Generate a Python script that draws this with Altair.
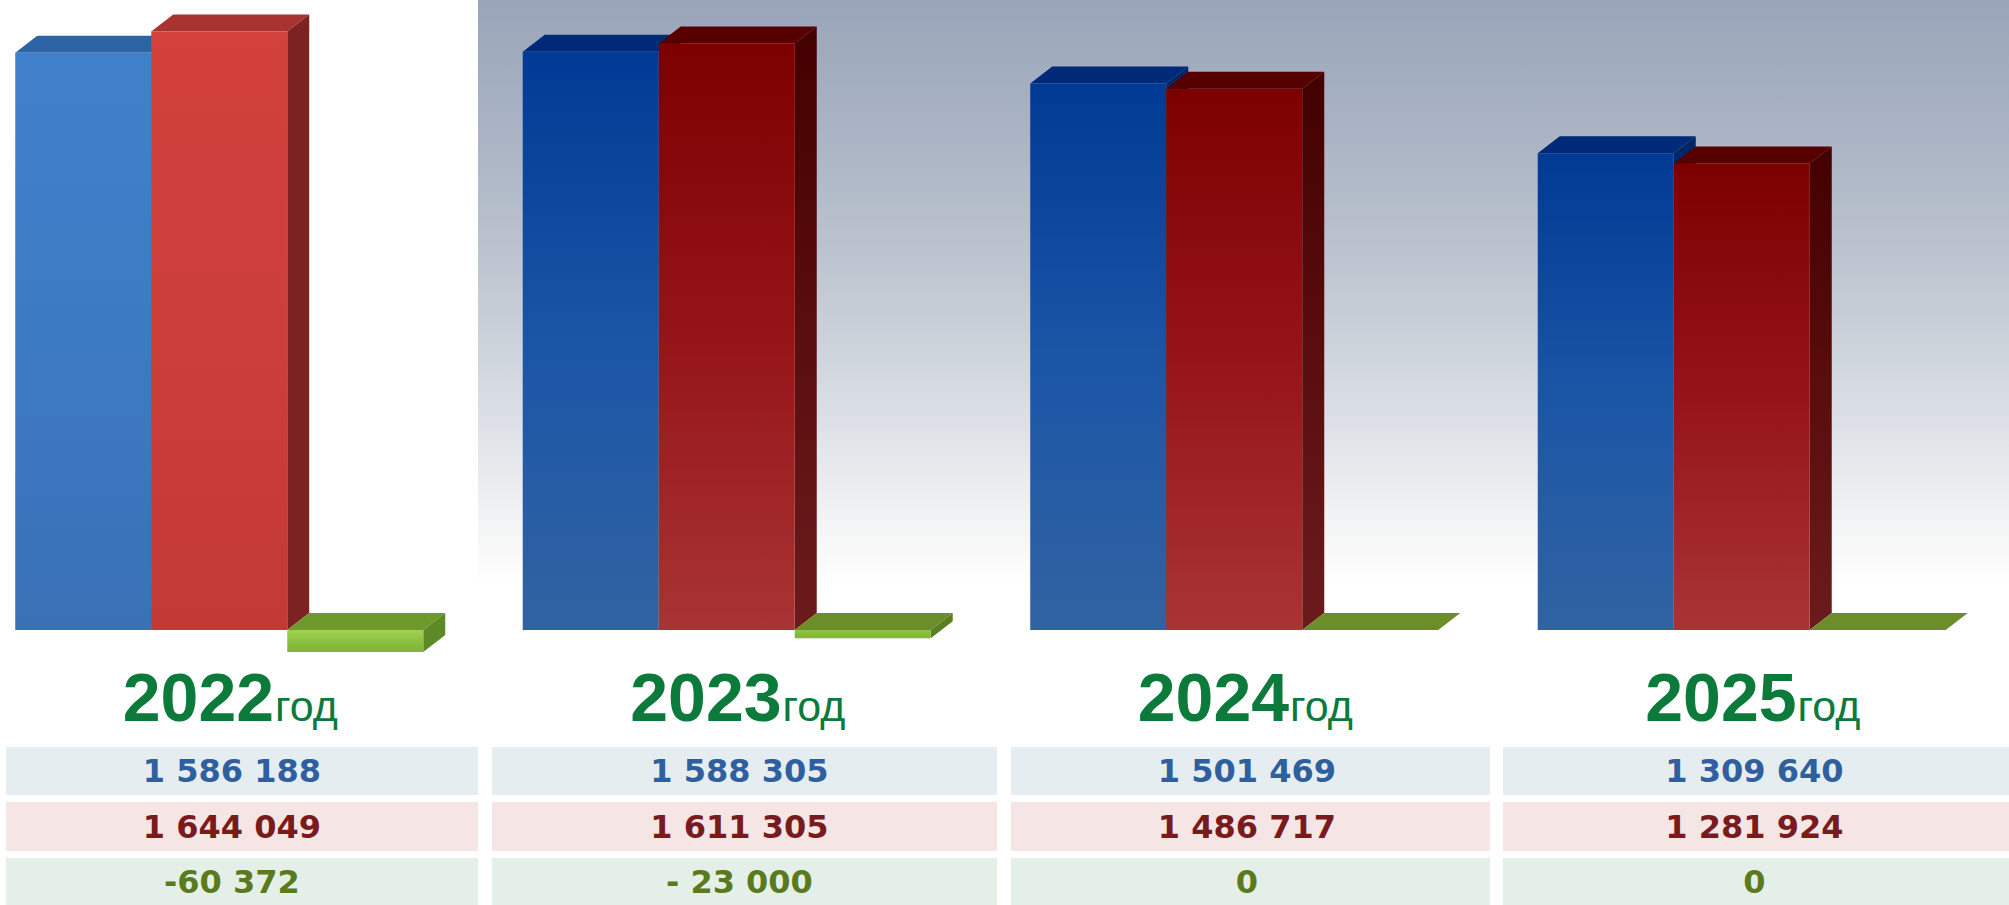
import altair as alt
import pandas as pd

# ---------------- data ----------------
years = ["2022", "2023", "2024", "2025"]
income = [1586188, 1588305, 1501469, 1309640]      # доходы
spending = [1644049, 1611305, 1486717, 1281924]    # расходы
balance = [-60372, -23000, 0, 0]                   # дефицит / профицит
balance_text = ["-60 372", "- 23 000", "0", "0"]
year_suffix = "год"

# ---------------- layout ----------------
W, H = 2009, 905
GROUP = 507.5                     # px per year group
X_DOMAIN = [0, W / GROUP]
PX_PER_UNIT = 3.64e-4
BASE_PX = 630
Y_DOMAIN = [-(H - BASE_PX) / PX_PER_UNIT, BASE_PX / PX_PER_UNIT]
BAR_OFF = 0.03
BAR_W = 0.268
DX = 22 / GROUP
DY = 17 / PX_PER_UNIT
TABLE_COLS_PX = [(6, 478), (492, 997), (1011, 1490), (1503, 2009)]
TEXT_OFF = 0.457
LABEL_OFF = 0.54

xs = alt.Scale(domain=X_DOMAIN, nice=False, zero=False)
ys = alt.Scale(domain=Y_DOMAIN, nice=False, zero=False)


def fmt(v):
    return f"{v:,}".replace(",", " ")


series = [("income", income), ("spending", spending), ("balance", balance)]
front_rows, poly_rows = [], []
for i, yr in enumerate(years):
    style = "light" if i == 0 else "dark"
    for s, (name, vals) in enumerate(series):
        v = vals[i]
        x0 = i + BAR_OFF + s * BAR_W
        x1 = x0 + BAR_W
        lo, hi = min(0, v), max(0, v)
        key = f"{name}_{style}"
        bid = f"{yr}_{name}"
        front_rows.append(dict(key=key, x0=x0, x1=x1, lo=lo, hi=hi))
        for px, a, b in [(x0, hi, hi), (x0 + DX, hi, hi + DY),
                         (x1, hi, hi + DY), (x1 + DX, hi + DY, hi + DY)]:
            poly_rows.append(dict(id=bid, face="top", key=key, x=px, a=a, b=b))
        for px, a, b in [(x1, lo, hi), (x1 + DX, lo + DY, hi + DY)]:
            poly_rows.append(dict(id=bid, face="side", key=key, x=px, a=a, b=b))

fronts = pd.DataFrame(front_rows)
polys = pd.DataFrame(poly_rows)


def grad(*stops):
    n = len(stops)
    return alt.Gradient(
        gradient="linear", x1=0, y1=0, x2=0, y2=1,
        stops=[alt.GradientStop(color=c, offset=k / (n - 1)) for k, c in enumerate(stops)],
    )


FILL = {
    ("income_light", "top"): "#2e63a6",
    ("income_light", "side"): "#275a98",
    ("income_light", "front"): grad("#4080cb", "#3d7ac4", "#3a70b6"),
    ("income_dark", "top"): "#002a78",
    ("income_dark", "side"): "#00266a",
    ("income_dark", "front"): grad("#003a94", "#1a55a6", "#3163a2"),
    ("spending_light", "top"): "#a83330",
    ("spending_light", "side"): "#7c2222",
    ("spending_light", "front"): grad("#d2413c", "#cc3e3a", "#c23935"),
    ("spending_dark", "top"): "#560000",
    ("spending_dark", "side"): grad("#430000", "#5a0d0d", "#6b1b1b"),
    ("spending_dark", "front"): grad("#7d0000", "#951418", "#a93434"),
    ("balance_light", "top"): "#6e9a2c",
    ("balance_light", "side"): "#5b8a26",
    ("balance_light", "front"): grad("#a2d44f", "#8cc03f", "#7fb236"),
    ("balance_dark", "top"): "#6b8e29",
    ("balance_dark", "side"): "#5a7f22",
    ("balance_dark", "front"): grad("#8fc444", "#7fb236"),
}

layers = []

# background gradient panel (slide decoration)
bg_grad = alt.Gradient(
    gradient="linear", x1=0, y1=0, x2=0, y2=1,
    stops=[
        alt.GradientStop(color="#99a5b9", offset=0.0),
        alt.GradientStop(color="#a9b3c3", offset=0.22),
        alt.GradientStop(color="#bcc4cf", offset=0.44),
        alt.GradientStop(color="#d5dae1", offset=0.66),
        alt.GradientStop(color="#eceef1", offset=0.84),
        alt.GradientStop(color="#fafafa", offset=0.95),
        alt.GradientStop(color="#ffffff", offset=1.0),
    ],
)
bg = alt.Chart(pd.DataFrame({"k": [0]})).mark_rect(fill=bg_grad).encode(
    x=alt.value(478), x2=alt.value(W), y=alt.value(0), y2=alt.value(585)
)
layers.append(bg)

for name, _ in series:
    for style in ["light", "dark"]:
        key = f"{name}_{style}"
        top = alt.Chart(polys).transform_filter(
            f"datum.key == '{key}' && datum.face == 'top'"
        ).mark_area(fill=FILL[(key, "top")], interpolate="linear").encode(
            x=alt.X("x:Q", scale=xs, axis=None),
            y=alt.Y("a:Q", scale=ys, axis=None, stack=None),
            y2="b:Q",
            detail="id:N",
        )
        side = alt.Chart(polys).transform_filter(
            f"datum.key == '{key}' && datum.face == 'side'"
        ).mark_area(fill=FILL[(key, "side")], interpolate="linear").encode(
            x=alt.X("x:Q", scale=xs, axis=None),
            y=alt.Y("a:Q", scale=ys, axis=None, stack=None),
            y2="b:Q",
            detail="id:N",
        )
        front = alt.Chart(fronts).transform_filter(
            f"datum.key == '{key}'"
        ).mark_rect(fill=FILL[(key, "front")]).encode(
            x=alt.X("x0:Q", scale=xs, axis=None),
            x2="x1:Q",
            y=alt.Y("lo:Q", scale=ys, axis=None),
            y2="hi:Q",
        )
        layers += [top, side, front]

# year labels
labels = pd.DataFrame({
    "year": years,
    "suffix": [year_suffix] * len(years),
    "lx": [i + LABEL_OFF for i in range(len(years))],
})
layers.append(
    alt.Chart(labels).mark_text(
        align="right", baseline="alphabetic", font="Liberation Sans",
        fontWeight="bold", fontSize=68, color="#0b7a3b",
    ).encode(x=alt.X("lx:Q", scale=xs, axis=None), y=alt.value(721), text="year:N")
)
layers.append(
    alt.Chart(labels).mark_text(
        align="left", baseline="alphabetic", font="Liberation Sans",
        fontSize=43, color="#0b7a3b", dx=1,
    ).encode(x=alt.X("lx:Q", scale=xs, axis=None), y=alt.value(721), text="suffix:N")
)

# table
table = pd.DataFrame({
    "c0": [a / GROUP for a, _ in TABLE_COLS_PX],
    "c1": [b / GROUP for _, b in TABLE_COLS_PX],
    "cx": [i + TEXT_OFF for i in range(len(years))],
    "t_income": [fmt(v) for v in income],
    "t_spending": [fmt(v) for v in spending],
    "t_balance": balance_text,
})
rows = [
    ("t_income", 747, 795, "#e5edf0", "#2f5f9f"),
    ("t_spending", 802, 851, "#f6e5e5", "#7a1b1b"),
    ("t_balance", 858, 905, "#e4f0e7", "#5b7a1e"),
]
for field, y0, y1, bgc, fg in rows:
    layers.append(
        alt.Chart(table).mark_rect(fill=bgc).encode(
            x=alt.X("c0:Q", scale=xs, axis=None), x2="c1:Q",
            y=alt.value(y0), y2=alt.value(y1),
        )
    )
    layers.append(
        alt.Chart(table).mark_text(
            align="center", baseline="middle", font="DejaVu Sans",
            fontWeight="bold", fontSize=32, color=fg,
        ).encode(
            x=alt.X("cx:Q", scale=xs, axis=None),
            y=alt.value((y0 + y1) / 2 + 1),
            text=f"{field}:N",
        )
    )

chart = alt.layer(*layers).properties(
    width=W, height=H, padding=0,
    autosize=alt.AutoSizeParams(type="none"),
    background="#ffffff",
).configure_view(stroke=None)

chart.save("out.html", embed_options={"renderer": "svg", "actions": False})
